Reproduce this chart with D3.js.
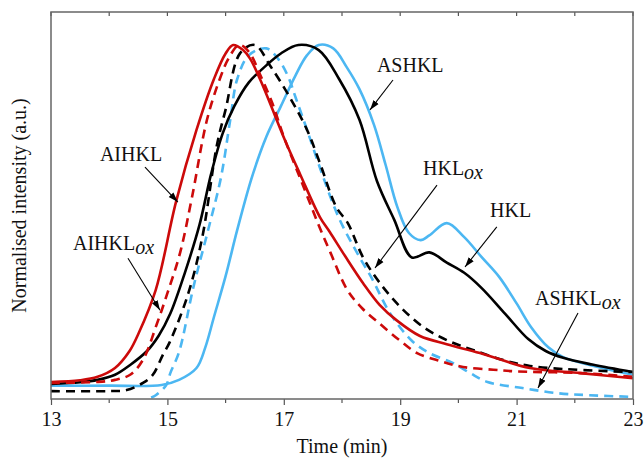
<!DOCTYPE html>
<html>
<head>
<meta charset="utf-8">
<script src="https://cdn.jsdelivr.net/npm/d3@7"></script>
<style>
  body { margin: 0; background: #fff; }
  text { font-family: "Liberation Serif", "Times New Roman", serif; fill: #111; }
</style>
</head>
<body>
<svg id="chart" width="644" height="459"></svg>
<script>
// chart frame
const PAD = { LEFT: 51, RIGHT: 11, TOP: 12, BOTTOM: 60 };
const W = 644, H = 459;

// time axis ticks (min)
const majorTicks = [13, 15, 17, 19, 21, 23];
const minorTicks = [14, 16, 18, 20, 22];

// normalised traces, [time (min), intensity]
const aihkl = [[13,0.009],[13.5,0.014],[13.8,0.024],[14.1,0.05],[14.35,0.1],[14.5,0.15],[14.8,0.28],[15.15,0.54],
  [15.5,0.75],[15.8,0.9],[16.0,0.975],[16.13,1.0],[16.3,0.985],[16.42,0.96],[16.59,0.9],[16.76,0.83],[17.02,0.72],
  [17.28,0.62],[17.62,0.494],[17.79,0.45],[18.05,0.38],[18.36,0.3],[18.65,0.235],[18.94,0.19],[19.34,0.144],
  [19.8,0.12],[20.37,0.094],[21.23,0.05],[22.1,0.035],[23,0.02]];

const aihklOx = [[13,0.006],[13.8,0.009],[14.1,0.015],[14.36,0.03],[14.58,0.074],[14.82,0.18],[15.0,0.27],[15.22,0.39],
  [15.42,0.55],[15.68,0.78],[15.9,0.9],[16.05,0.96],[16.23,1.0],[16.4,0.98],[16.6,0.91],[16.8,0.83],[17.0,0.73],
  [17.3,0.6],[17.6,0.47],[17.8,0.39],[18.09,0.28],[18.35,0.225],[18.65,0.18],[19.0,0.13],[19.29,0.094],[19.7,0.07],
  [20.08,0.053],[20.6,0.045],[21.0,0.04],[22.1,0.035],[23,0.024]];

const hkl = [[13,0.003],[13.5,0.008],[13.8,0.015],[14.1,0.03],[14.36,0.059],[14.65,0.1],[14.85,0.145],[15.05,0.21],
  [15.3,0.33],[15.55,0.47],[15.75,0.62],[15.95,0.74],[16.15,0.82],[16.4,0.89],[16.7,0.94],[16.95,0.975],[17.25,1.0],
  [17.6,0.985],[17.95,0.9],[18.3,0.78],[18.6,0.6],[18.9,0.485],[19.2,0.375],[19.5,0.39],[19.8,0.36],[20.1,0.33],
  [20.4,0.285],[20.8,0.21],[21.2,0.135],[21.5,0.1],[21.8,0.08],[22.3,0.06],[23,0.038]];

const hklOx = [[13,-0.018],[14.0,-0.018],[14.3,-0.015],[14.58,0.006],[14.75,0.03],[14.92,0.088],[15.04,0.126],
  [15.36,0.27],[15.6,0.435],[15.85,0.705],[16.0,0.81],[16.25,0.976],[16.5,1.0],[16.78,0.935],[17.1,0.847],
  [17.4,0.75],[17.62,0.653],[17.9,0.524],[18.1,0.476],[18.36,0.376],[18.65,0.3],[19.0,0.23],[19.4,0.17],
  [19.8,0.132],[20.25,0.103],[20.84,0.07],[21.23,0.056],[21.8,0.047],[23,0.038]];

const ashkl = [[13,-0.002],[14.0,-0.002],[14.9,0.0],[15.2,0.015],[15.5,0.05],[15.65,0.11],[15.8,0.2],[16.0,0.32],
  [16.2,0.456],[16.45,0.61],[16.7,0.73],[16.95,0.82],[17.2,0.91],[17.4,0.97],[17.6,1.0],[17.85,0.99],[18.08,0.935],
  [18.3,0.87],[18.55,0.765],[18.75,0.647],[18.95,0.524],[19.15,0.447],[19.35,0.426],[19.5,0.44],[19.8,0.476],
  [20.1,0.435],[20.4,0.376],[20.7,0.318],[21.0,0.24],[21.25,0.17],[21.55,0.11],[21.8,0.082],[22.4,0.053],[23,0.03]];

const ashklOx = [[14.5,-0.06],[14.67,-0.041],[14.8,-0.03],[14.98,0.0],[15.05,0.035],[15.2,0.097],[15.45,0.29],
  [15.7,0.456],[15.92,0.61],[16.08,0.78],[16.2,0.9],[16.4,0.97],[16.7,0.99],[16.9,0.96],[17.08,0.905],[17.2,0.847],
  [17.4,0.75],[17.66,0.62],[17.95,0.49],[18.3,0.376],[18.5,0.318],[18.83,0.21],[19.2,0.13],[19.5,0.094],
  [19.9,0.065],[20.2,0.035],[20.5,0.009],[21.1,-0.009],[21.7,-0.024],[22.25,-0.03],[23,-0.035]];

const series = [
  { name: "ASHKL", values: ashkl, color: "#4cb7f2", dash: null },
  { name: "ASHKLox", values: ashklOx, color: "#4cb7f2", dash: "9,6" },
  { name: "HKLox", values: hklOx, color: "#000", dash: "9,6" },
  { name: "HKL", values: hkl, color: "#000", dash: null },
  { name: "AIHKLox", values: aihklOx, color: "#cc0a0a", dash: "9,6" },
  { name: "AIHKL", values: aihkl, color: "#cc0a0a", dash: null }
];

// annotations: label, subscript, text point and arrow (time, intensity)
const labels = [
  { text: "AIHKL", sub: "", at: [14.375, 0.659], anchor: "middle", from: [14.615, 0.641], to: [15.18, 0.538] },
  { text: "AIHKL", sub: "ox", at: [13.378, 0.397], anchor: "start", from: [14.323, 0.373], to: [14.873, 0.22] },
  { text: "HKL", sub: "ox", at: [19.392, 0.618], anchor: "start", from: [19.632, 0.588], to: [18.567, 0.344] },
  { text: "HKL", sub: "", at: [20.543, 0.494], anchor: "start", from: [20.66, 0.465], to: [20.113, 0.347] },
  { text: "ASHKL", sub: "", at: [18.6, 0.921], anchor: "start", from: [18.876, 0.897], to: [18.481, 0.809] },
  { text: "ASHKL", sub: "ox", at: [21.316, 0.235], anchor: "start", from: [22.055, 0.212], to: [21.368, -0.009] }
];

let svg = d3.select("#chart");

let xScale = d3.scaleLinear().domain([13, 23]).range([PAD.LEFT, W - PAD.RIGHT]);
let yScale = d3.scaleLinear().domain([-0.0412, 1.097]).range([H - PAD.BOTTOM, PAD.TOP]);

svg.append("defs").append("clipPath").attr("id", "plot-clip")
  .append("rect")
  .attr("x", PAD.LEFT).attr("y", PAD.TOP)
  .attr("width", W - PAD.LEFT - PAD.RIGHT)
  .attr("height", H - PAD.TOP - PAD.BOTTOM);

svg.select("defs").append("marker")
  .attr("id", "arrow")
  .attr("viewBox", "0 0 10 10")
  .attr("refX", 10).attr("refY", 5)
  .attr("markerWidth", 10).attr("markerHeight", 10)
  .attr("markerUnits", "userSpaceOnUse")
  .attr("orient", "auto")
  .append("path")
  .attr("d", "M0,1.8 L10,5 L0,8.2 Z")
  .attr("fill", "#000");

// traces
let line = d3.line()
  .x(d => xScale(d[0]))
  .y(d => yScale(d[1]))
  .curve(d3.curveCatmullRom.alpha(0.5));

svg.append("g").attr("clip-path", "url(#plot-clip)")
  .selectAll("path")
  .data(series)
  .join("path")
  .attr("fill", "none")
  .attr("stroke", d => d.color)
  .attr("stroke-width", 2.6)
  .attr("stroke-dasharray", d => d.dash)
  .attr("d", d => line(d.values));

// bottom axis, ticks outwards
let xAxis = d3.axisBottom(xScale)
  .tickValues(majorTicks)
  .tickSize(6)
  .tickPadding(7)
  .tickFormat(d3.format("d"));
let gx = svg.append("g")
  .attr("transform", "translate(0," + (H - PAD.BOTTOM) + ")")
  .call(xAxis);
gx.select(".domain").remove();
gx.selectAll(".tick line").attr("stroke", "#555").attr("stroke-width", 1.2);
gx.selectAll(".tick text")
  .attr("font-family", "Liberation Serif, serif")
  .attr("font-size", 20)
  .attr("fill", "#111");

gx.selectAll(".minor")
  .data(minorTicks)
  .join("line")
  .attr("class", "minor")
  .attr("x1", d => xScale(d)).attr("x2", d => xScale(d))
  .attr("y1", 0).attr("y2", 4)
  .attr("stroke", "#555").attr("stroke-width", 1.2);

// top ticks, inwards
svg.append("g")
  .selectAll("line")
  .data(majorTicks.concat(minorTicks))
  .join("line")
  .attr("x1", d => xScale(d)).attr("x2", d => xScale(d))
  .attr("y1", PAD.TOP).attr("y2", PAD.TOP + 4)
  .attr("stroke", "#555").attr("stroke-width", 1.2);

// frame
svg.append("rect")
  .attr("x", PAD.LEFT).attr("y", PAD.TOP)
  .attr("width", W - PAD.LEFT - PAD.RIGHT)
  .attr("height", H - PAD.TOP - PAD.BOTTOM)
  .attr("fill", "none")
  .attr("stroke", "#666")
  .attr("stroke-width", 1.5);

// axis titles
svg.append("text")
  .attr("x", (PAD.LEFT + W - PAD.RIGHT) / 2)
  .attr("y", H - 6)
  .attr("text-anchor", "middle")
  .attr("font-size", 20)
  .text("Time (min)");

svg.append("text")
  .attr("transform", "translate(26," + ((PAD.TOP + H - PAD.BOTTOM) / 2) + ") rotate(-90)")
  .attr("text-anchor", "middle")
  .attr("font-size", 20)
  .text("Normalised intensity (a.u.)");

// annotations
let notes = svg.append("g");
labels.forEach(function(l) {
  let t = notes.append("text")
    .attr("x", xScale(l.at[0]))
    .attr("y", yScale(l.at[1]))
    .attr("text-anchor", l.anchor)
    .attr("font-size", 20)
    .text(l.text);
  if (l.sub) {
    t.append("tspan")
      .attr("font-style", "italic")
      .attr("dy", 4)
      .text(l.sub);
  }
  notes.append("line")
    .attr("x1", xScale(l.from[0])).attr("y1", yScale(l.from[1]))
    .attr("x2", xScale(l.to[0])).attr("y2", yScale(l.to[1]))
    .attr("stroke", "#000")
    .attr("stroke-width", 1.1)
    .attr("marker-end", "url(#arrow)");
});
</script>
</body>
</html>
